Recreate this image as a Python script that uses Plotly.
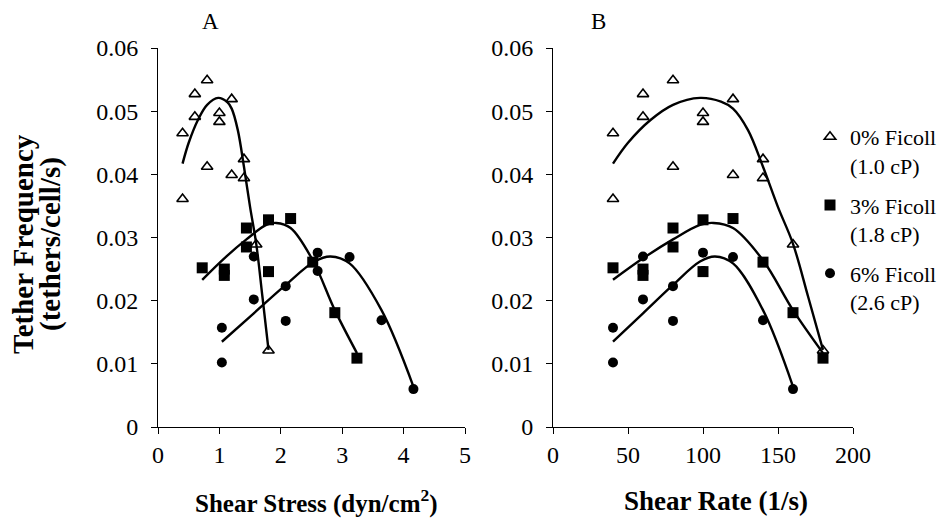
import plotly.graph_objects as go

# ---- data ----
# 0% Ficoll (1.0 cP)
rate0 = [40, 40, 60, 60, 80, 80, 100, 100, 120, 120, 140, 140, 160, 180]
stress0 = [0.4, 0.4, 0.6, 0.6, 0.8, 0.8, 1.0, 1.0, 1.2, 1.2, 1.4, 1.4, 1.6, 1.8]
freq0 = [0.0465, 0.0361, 0.0527, 0.0491, 0.0549, 0.0412, 0.0497, 0.0483,
         0.0519, 0.0399, 0.0424, 0.0394, 0.0289, 0.0121]
# 3% Ficoll (1.8 cP)
rate3 = [40, 60, 60, 80, 80, 100, 100, 120, 140, 160, 180]
stress3 = [0.72, 1.08, 1.08, 1.44, 1.44, 1.8, 1.8, 2.16, 2.52, 2.88, 3.24]
freq3 = [0.0252, 0.0250, 0.0240, 0.0315, 0.0285, 0.0328, 0.0246, 0.0330,
         0.0261, 0.0181, 0.0109]
# 6% Ficoll (2.6 cP)
rate6 = [40, 40, 60, 60, 80, 80, 100, 100, 120, 140, 160]
stress6 = [1.04, 1.04, 1.56, 1.56, 2.08, 2.08, 2.6, 2.6, 3.12, 3.64, 4.16]
freq6 = [0.0157, 0.0102, 0.0270, 0.0202, 0.0223, 0.0168, 0.0276, 0.0247,
         0.0269, 0.0169, 0.0060]

# fitted curves
c0_rate = [40, 50, 65, 80, 98, 112, 120, 130, 140, 150, 160, 170, 180]
c0_stress = [0.4, 0.5, 0.65, 0.8, 0.98, 1.12, 1.2, 1.3, 1.4, 1.5, 1.6, 1.7, 1.8]
c0_val = [0.0417, 0.0450, 0.0486, 0.0510, 0.0521, 0.0515, 0.0504, 0.0470,
          0.0412, 0.0348, 0.0290, 0.0207, 0.0122]
c3_rate = [40, 60, 80, 98, 107, 120, 140, 160, 180]
c3_stress = [0.72, 1.08, 1.44, 1.764, 1.926, 2.16, 2.52, 2.88, 3.24]
c3_val = [0.0233, 0.0267, 0.0297, 0.0320, 0.0323, 0.0315, 0.0264, 0.0185, 0.0117]
c6_rate = [40, 60, 80, 98, 108, 120, 140, 160]
c6_stress = [1.04, 1.56, 2.08, 2.548, 2.808, 3.12, 3.64, 4.16]
c6_val = [0.0135, 0.0180, 0.0225, 0.0262, 0.0270, 0.0259, 0.0185, 0.0064]

legend_names = ["0% Ficoll<br>(1.0 cP)", "3% Ficoll<br>(1.8 cP)", "6% Ficoll<br>(2.6 cP)"]
y_ticks = [0, 0.01, 0.02, 0.03, 0.04, 0.05, 0.06]
y_tick_text = ["0", "0.01", "0.02", "0.03", "0.04", "0.05", "0.06"]
xA_ticks = [0, 1, 2, 3, 4, 5]
xB_ticks = [0, 50, 100, 150, 200]

FONT = "Liberation Serif, Times New Roman, serif"
BLACK = "black"
W, H = 951, 521

markers = [
    dict(symbol="triangle-up-open", size=10, color=BLACK, line=dict(width=1.6, color=BLACK)),
    dict(symbol="square", size=11, color=BLACK, line=dict(width=0)),
    dict(symbol="circle", size=10, color=BLACK, line=dict(width=0)),
]

fig = go.Figure()

pts_A = [(stress0, freq0), (stress3, freq3), (stress6, freq6)]
pts_B = [(rate0, freq0), (rate3, freq3), (rate6, freq6)]
cur_A = [(c0_stress, c0_val), (c3_stress, c3_val), (c6_stress, c6_val)]
cur_B = [(c0_rate, c0_val), (c3_rate, c3_val), (c6_rate, c6_val)]

for i in range(3):
    fig.add_trace(go.Scatter(x=cur_A[i][0], y=cur_A[i][1], mode="lines",
                             line=dict(color=BLACK, width=2.4, shape="spline", smoothing=1.0),
                             xaxis="x", yaxis="y", showlegend=False, hoverinfo="skip"))
    fig.add_trace(go.Scatter(x=cur_B[i][0], y=cur_B[i][1], mode="lines",
                             line=dict(color=BLACK, width=2.4, shape="spline", smoothing=1.0),
                             xaxis="x2", yaxis="y2", showlegend=False, hoverinfo="skip"))
for i in range(3):
    fig.add_trace(go.Scatter(x=pts_A[i][0], y=pts_A[i][1], mode="markers",
                             marker=markers[i], xaxis="x", yaxis="y",
                             showlegend=False, cliponaxis=False))
    fig.add_trace(go.Scatter(x=pts_B[i][0], y=pts_B[i][1], mode="markers",
                             marker=markers[i], xaxis="x2", yaxis="y2",
                             name=legend_names[i], legendgroup="g%d" % i,
                             showlegend=True, cliponaxis=False))

ydom = [1 - 427 / H, 1 - 48 / H]
axis_common = dict(showline=True, linecolor=BLACK, linewidth=1, ticks="outside",
                   ticklen=6, tickwidth=1, tickcolor=BLACK, showgrid=False,
                   zeroline=False, automargin=False,
                   tickfont=dict(family=FONT, size=24, color=BLACK))

fig.update_layout(
    width=W, height=H,
    margin=dict(l=0, r=0, t=0, b=0, autoexpand=False),
    paper_bgcolor="white", plot_bgcolor="white",
    font=dict(family=FONT, color=BLACK),
    xaxis=dict(domain=[158 / W, 465 / W], range=[0, 5], tickvals=xA_ticks,
               anchor="y", ticklabelstandoff=0, **axis_common),
    yaxis=dict(domain=ydom, range=[0, 0.06], tickvals=y_ticks, ticktext=y_tick_text,
               anchor="x", ticklabelstandoff=8, **axis_common),
    xaxis2=dict(domain=[553 / W, 853 / W], range=[0, 200], tickvals=xB_ticks,
                anchor="y2", ticklabelstandoff=0, **axis_common),
    yaxis2=dict(domain=ydom, range=[0, 0.06], tickvals=y_ticks, ticktext=y_tick_text,
                anchor="x2", ticklabelstandoff=8, **axis_common),
    legend=dict(x=810 / W, y=1 - 116 / H, xanchor="left", yanchor="top",
                font=dict(family=FONT, size=22, color=BLACK),
                bgcolor="rgba(0,0,0,0)", valign="top", tracegroupgap=8,
                itemwidth=30),
)


def ann(text, px, py, size, bold=False, angle=0):
    return go.layout.Annotation(
        text=("<b>%s</b>" % text) if bold else text,
        x=px / W, y=1 - py / H, xref="paper", yref="paper", showarrow=False,
        xanchor="center", yanchor="middle",
        textangle=angle, font=dict(family=FONT, size=size, color=BLACK))


fig.layout.annotations = [
    ann("A", 210, 22, 23),
    ann("B", 598, 22, 23),
    ann("Shear Stress (dyn/cm<sup>2</sup>)", 316, 501, 25, bold=True),
    ann("Shear Rate (1/s)", 716, 501, 27, bold=True),
    ann("Tether Frequency", 23, 244, 29, bold=True, angle=-90),
    ann("(tethers/cell/s)", 50, 244, 29, bold=True, angle=-90),
]

fig.write_html("out.html")
